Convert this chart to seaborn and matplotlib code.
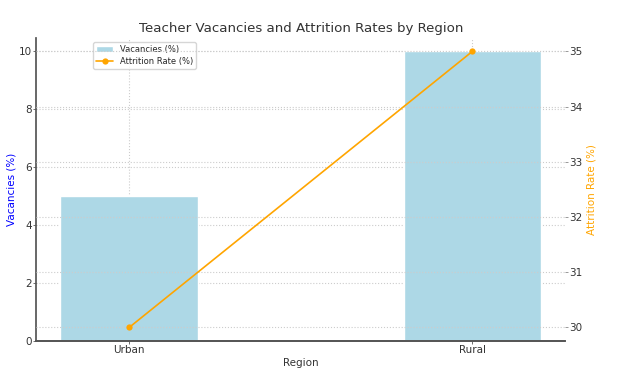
import matplotlib
matplotlib.use("Agg")
import matplotlib.pyplot as plt
import seaborn as sns
import pandas as pd

regions = ["Urban", "Rural"]
vacancies = [5, 10]
attrition = [30, 35]

sns.set_theme(style="whitegrid")
plt.rcParams['font.family'] = ['DejaVu Sans']

df = pd.DataFrame({"Region": regions, "Vacancies": vacancies, "Attrition": attrition})

fig, ax = plt.subplots(figsize=(6.28, 3.73), dpi=100)
fig.subplots_adjust(left=0.058, right=0.9, top=0.898, bottom=0.085)

sns.barplot(data=df, x="Region", y="Vacancies", color="lightblue", width=0.4,
            ax=ax, label="Vacancies (%)", saturation=1)
ax2 = ax.twinx()
sns.lineplot(data=df, x="Region", y="Attrition", color="orange", marker="o",
             markersize=4.5, markeredgewidth=0, ax=ax2, label="Attrition Rate (%)", linewidth=1.2)
ax2.set_ylim(29.75, 35.24)
ax.set_ylim(0, 10.45)
ax.set_xlim(-0.27, 1.27)

for a in (ax, ax2):
    a.grid(True, linestyle=":", color="#cccccc", linewidth=0.8)
    for s in a.spines.values():
        s.set_visible(False)
    a.tick_params(labelsize=7.5, colors="#333333", length=2, width=0.6, pad=1)
ax.tick_params(axis="y", left=True, color="#555555")
ax.tick_params(axis="x", bottom=True, length=2, pad=0.5, color="#555555")
ax2.tick_params(axis="y", right=True, color="#888888")
ax.spines["left"].set_visible(True)
ax.spines["bottom"].set_visible(True)
ax.spines["left"].set_color("#555555")
ax.spines["bottom"].set_color("#555555")
ax2.spines["bottom"].set_visible(True)
ax2.spines["bottom"].set_color("#555555")

ax.set_xlabel("Region", fontsize=7.5, color="#333333", labelpad=2)
ax.set_ylabel("Vacancies (%)", color="blue", fontsize=7.5, labelpad=2)
ax2.set_ylabel("Attrition Rate (%)", color="orange", fontsize=7.5, labelpad=3)
ax.set_title("Teacher Vacancies and Attrition Rates by Region", fontsize=9.6, color="#333333", pad=4)

h1, l1 = ax.get_legend_handles_labels()
h2, l2 = ax2.get_legend_handles_labels()
if ax2.get_legend():
    ax2.get_legend().remove()
ax.legend(h1 + h2, l1 + l2, loc="upper left", bbox_to_anchor=(0.1, 1.0), fontsize=6,
          frameon=True, labelspacing=0.35, borderpad=0.35)

fig.savefig("out.png", dpi=100)
